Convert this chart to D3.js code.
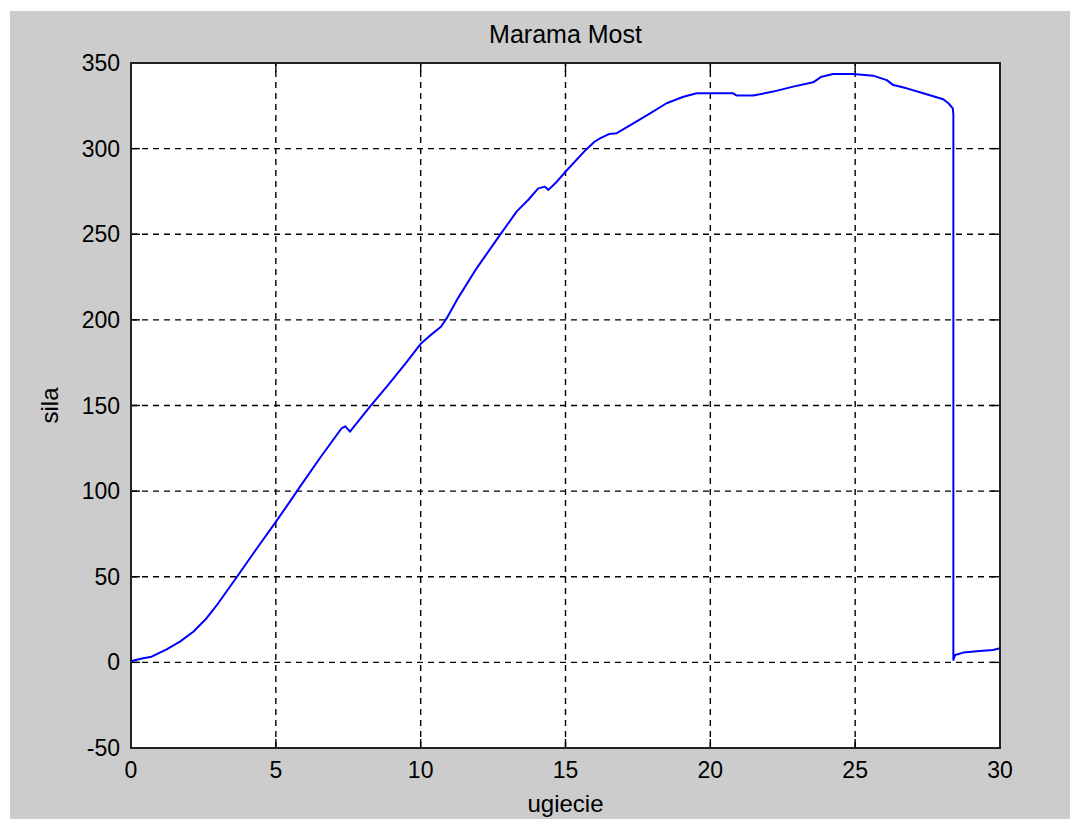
<!DOCTYPE html>
<html lang="en">
<head>
    <meta charset="UTF-8">
    <title>Marama Most</title>
    <script src="https://d3js.org/d3.v7.min.js"></script>
    <style>
        body {
            margin: 0;
            padding: 0;
            background-color: #ffffff;
        }
        svg {
            display: block;
        }
        text {
            font-family: "Liberation Sans", Arial, sans-serif;
            fill: #000;
        }
    </style>
</head>
<body>
    <script>
        // values (ugiecie vs sila)
        const ugiecie = [0, 0.02, 0.42, 0.71, 1.23, 1.69, 2.15, 2.61, 3.01, 3.66, 4.3, 5.0, 5.55,
            5.83, 6.53, 7.27, 7.4, 7.56, 8.25, 8.88, 9.5, 10.0, 10.3, 10.7, 10.9, 11.3, 11.93,
            12.74, 13.31, 13.71, 14.06, 14.29, 14.41, 14.7, 15.0, 15.69, 16.0, 16.19, 16.5, 16.77,
            17.34, 17.92, 18.49, 19.07, 19.53, 20.0, 20.79, 20.91, 21.48, 22.17, 22.86, 23.55,
            23.84, 24.24, 24.93, 25.62, 26.09, 26.32, 26.78, 27.35, 28.04, 28.22, 28.37, 28.39,
            28.39, 28.45, 28.73, 29.3, 29.76, 30.0];
        const sila = [0, 0.8, 2.4, 3.3, 7.6, 12.1, 17.9, 25.8, 34.5, 50, 65.5, 82, 95.5,
            102.5, 119.5, 136.7, 137.8, 134.7, 149.3, 162, 175, 186, 190.5, 196, 201, 213, 230.1,
            249.6, 263.2, 270, 276.8, 277.8, 275.9, 280.7, 286.5, 299.1, 304, 306, 308.5, 309,
            314.8, 320.6, 326.5, 330.3, 332.3, 332.3, 332.3, 331, 331, 333.3, 336.2, 338.7,
            342, 343.6, 343.6, 342.6, 340, 337.1, 335.2, 332.3, 328.8, 326.5, 323.5, 320,
            1.4, 4.3, 5.7, 6.7, 7.2, 8.2];

        const xTicks = [0, 5, 10, 15, 20, 25, 30];
        const yTicks = [-50, 0, 50, 100, 150, 200, 250, 300, 350];

        const W = 1070, H = 819;
        const plot = { left: 131, right: 1000, top: 63, bottom: 748 };
        const tickLen = 9;

        const svg = d3.select("body").append("svg")
            .attr("width", W)
            .attr("height", H);

        // figure background
        svg.append("rect")
            .attr("x", 10).attr("y", 11)
            .attr("width", W - 10).attr("height", H - 11)
            .attr("fill", "#cccccc");

        const x = d3.scaleLinear().domain([0, 30]).range([plot.left, plot.right]);
        const y = d3.scaleLinear().domain([-50, 350]).range([plot.bottom, plot.top]);

        // axes area
        svg.append("rect")
            .attr("x", plot.left).attr("y", plot.top)
            .attr("width", plot.right - plot.left).attr("height", plot.bottom - plot.top)
            .attr("fill", "#ffffff");

        // grid
        const grid = svg.append("g")
            .attr("stroke", "#000")
            .attr("stroke-width", 1.4)
            .attr("stroke-dasharray", "6,5");

        grid.selectAll(".gx")
            .data(xTicks.slice(1, -1))
            .join("line")
            .attr("x1", d => x(d)).attr("x2", d => x(d))
            .attr("y1", plot.bottom).attr("y2", plot.top);

        grid.selectAll(".gy")
            .data(yTicks.slice(1, -1))
            .join("line")
            .attr("y1", d => y(d)).attr("y2", d => y(d))
            .attr("x1", plot.left).attr("x2", plot.right);

        // tick marks on all four sides, pointing inwards
        const ticks = svg.append("g")
            .attr("stroke", "#000")
            .attr("stroke-width", 1.4);

        xTicks.forEach(t => {
            ticks.append("line")
                .attr("x1", x(t)).attr("x2", x(t))
                .attr("y1", plot.bottom).attr("y2", plot.bottom - tickLen);
            ticks.append("line")
                .attr("x1", x(t)).attr("x2", x(t))
                .attr("y1", plot.top).attr("y2", plot.top + tickLen);
        });
        yTicks.forEach(t => {
            ticks.append("line")
                .attr("y1", y(t)).attr("y2", y(t))
                .attr("x1", plot.left).attr("x2", plot.left + tickLen);
            ticks.append("line")
                .attr("y1", y(t)).attr("y2", y(t))
                .attr("x1", plot.right).attr("x2", plot.right - tickLen);
        });

        // data line
        const line = d3.line()
            .x((d, i) => x(ugiecie[i]))
            .y(d => y(d));

        svg.append("path")
            .datum(sila)
            .attr("fill", "none")
            .attr("stroke", "#0000ff")
            .attr("stroke-width", 2)
            .attr("stroke-linejoin", "round")
            .attr("d", line);

        // box
        svg.append("rect")
            .attr("x", plot.left).attr("y", plot.top)
            .attr("width", plot.right - plot.left).attr("height", plot.bottom - plot.top)
            .attr("fill", "none")
            .attr("stroke", "#222")
            .attr("stroke-width", 2);

        // tick labels
        svg.append("g")
            .selectAll("text")
            .data(xTicks)
            .join("text")
            .attr("x", d => x(d))
            .attr("y", 778)
            .attr("text-anchor", "middle")
            .attr("font-size", 23)
            .text(d => d);

        svg.append("g")
            .selectAll("text")
            .data(yTicks)
            .join("text")
            .attr("x", 120)
            .attr("y", d => y(d))
            .attr("dy", "0.35em")
            .attr("text-anchor", "end")
            .attr("font-size", 23)
            .text(d => d);

        // title and axis labels
        svg.append("text")
            .attr("x", (plot.left + plot.right) / 2)
            .attr("y", 43)
            .attr("text-anchor", "middle")
            .attr("font-size", 25)
            .text("Marama Most");

        svg.append("text")
            .attr("x", (plot.left + plot.right) / 2)
            .attr("y", 812)
            .attr("text-anchor", "middle")
            .attr("font-size", 24)
            .text("ugiecie");

        svg.append("text")
            .attr("transform", `translate(58,${(plot.top + plot.bottom) / 2}) rotate(-90)`)
            .attr("text-anchor", "middle")
            .attr("font-size", 24)
            .text("sila");
    </script>
</body>
</html>
